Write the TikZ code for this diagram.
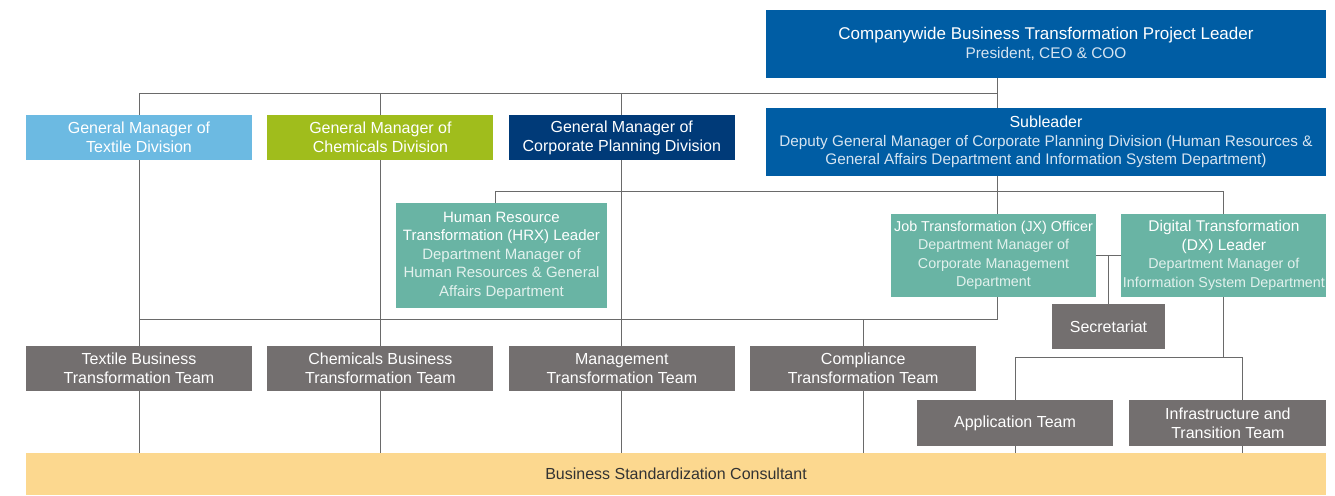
\documentclass[tikz,border=0pt]{standalone}
\usepackage{fontspec}
\setmainfont{Liberation Sans}
\usetikzlibrary{positioning, calc}
\definecolor{ceoblue}{HTML}{005DA4}
\definecolor{bluesub}{HTML}{D6E4F1}
\definecolor{texblue}{HTML}{6CBAE2}
\definecolor{chemgreen}{HTML}{A0BD1C}
\definecolor{corpnavy}{HTML}{003A78}
\definecolor{xteal}{HTML}{69B4A4}
\definecolor{tealsub}{HTML}{E2F1ED}
\definecolor{teamgray}{HTML}{736F6F}
\definecolor{bscyellow}{HTML}{FCD88F}
\definecolor{linegray}{HTML}{6A6A6A}
\tikzset{
  box/.style={fill=#1, text=white, inner sep=0pt, align=center,
    font=\fontsize{16}{19}\selectfont},
  gm/.style={box=#1, minimum width=226, minimum height=45},
  team/.style={box=teamgray, minimum width=226, minimum height=45},
  xbox/.style={box=xteal, minimum width=205, minimum height=83,
    font=\fontsize{14.3}{18.5}\selectfont},
  link/.style={draw=linegray, line width=1pt}
}
\begin{document}
\begin{tikzpicture}[x=1pt, y=-1pt]
  \useasboundingbox (0,0) rectangle (1335,495);

  % leader and subleader
  \node[box=ceoblue, minimum width=560, minimum height=68,
    font=\fontsize{15.4}{19}\selectfont] (CEO) at (1046,44)
    {{\fontsize{17}{19}\selectfont Companywide Business Transformation Project Leader}\\
     \color{bluesub}President, CEO \& COO};
  \node[box=ceoblue, minimum width=560, minimum height=68,
    font=\fontsize{15.3}{18.5}\selectfont] (SUB) at (1046,142)
    {{\fontsize{16}{18.5}\selectfont Subleader}\\
     \color{bluesub}Deputy General Manager of Corporate Planning Division (Human Resources \&\\
     \color{bluesub}General Affairs Department and Information System Department)};

  % general managers
  \node[gm=texblue] (GMT) at (139,137.5) {General Manager of\\Textile Division};
  \node[gm=chemgreen, right=15pt of GMT] (GMC) {General Manager of\\Chemicals Division};
  \node[gm=corpnavy, right=15pt of GMC] (GMP) {General Manager of\\Corporate Planning Division};

  % transformation officers
  \node[box=xteal, minimum width=211, minimum height=105,
    font=\fontsize{15}{18.5}\selectfont] (HRX) at (501.5,255.5)
    {Human Resource\\Transformation (HRX) Leader\\
     \color{tealsub}Department Manager of\\
     \color{tealsub}Human Resources \& General\\
     \color{tealsub}Affairs Department};
  \node[xbox] (JX) at (993.5,255.5)
    {Job Transformation (JX) Officer\\
     \color{tealsub}Department Manager of\\
     \color{tealsub}Corporate Management\\
     \color{tealsub}Department};
  \node[xbox, right=25pt of JX] (DX)
    {{\fontsize{15.5}{18.5}\selectfont Digital Transformation}\\
     {\fontsize{15.5}{18.5}\selectfont (DX) Leader}\\
     \color{tealsub}Department Manager of\\
     \color{tealsub}Information System Department};
  \node[box=teamgray, minimum width=113, minimum height=45] (SEC) at (1108.5,326.5) {Secretariat};

  % teams
  \node[team] (TT) at (139,368.5) {Textile Business\\Transformation Team};
  \node[team, right=15pt of TT] (CT) {Chemicals Business\\Transformation Team};
  \node[team, right=15pt of CT] (MT) {Management\\Transformation Team};
  \node[team, right=15pt of MT] (CPT) {Compliance\\Transformation Team};
  \node[box=teamgray, minimum width=196, minimum height=46] (APP) at (1015,423) {Application Team};
  \node[box=teamgray, minimum width=197, minimum height=46, right=16pt of APP] (INF)
    {Infrastructure and\\Transition Team};

  \node[box=bscyellow, text=black!80, minimum width=1300, minimum height=42] (BSC) at (676,474)
    {Business Standardization Consultant};

  \coordinate (top) at (997,93);
  \coordinate (mid) at (997,191.5);
  \coordinate (hr) at (495,191.5);
  \coordinate (low) at (997,319);
  \coordinate (ib) at (1242,357);

  \draw[link] (CEO.south -| top) -- (SUB.north -| top);
  \draw[link] (GMT.north) |- (top);
  \draw[link] (GMC.north) -- (GMC.north |- top);
  \draw[link] (GMP.north) -- (GMP.north |- top);
  \draw[link] (SUB.south -| mid) -- (JX.north -| mid);
  \draw[link] (HRX.north -| hr) -- (hr) -| (DX.north);
  \draw[link] (JX.south -| low) |- (TT.north |- low);
  \draw[link] (GMT.south) -- (TT.north);
  \draw[link] (GMC.south) -- (CT.north);
  \draw[link] (GMP.south) -- (MT.north);
  \draw[link] (CPT.north) -- (CPT.north |- low);
  \draw[link] (JX.east) -- (DX.west);
  \draw[link] (SEC.north) -- (SEC.north |- JX.east);
  \draw[link] (DX.south) -- (DX.south |- ib);
  \draw[link] (APP.north) |- (ib) -- (INF.north -| ib);
  \foreach \t in {TT, CT, MT, CPT, APP}
    \draw[link] (\t.south) -- (\t.south |- BSC.north);
  \draw[link] (INF.south -| ib) -- (BSC.north -| ib);
\end{tikzpicture}
\end{document}
